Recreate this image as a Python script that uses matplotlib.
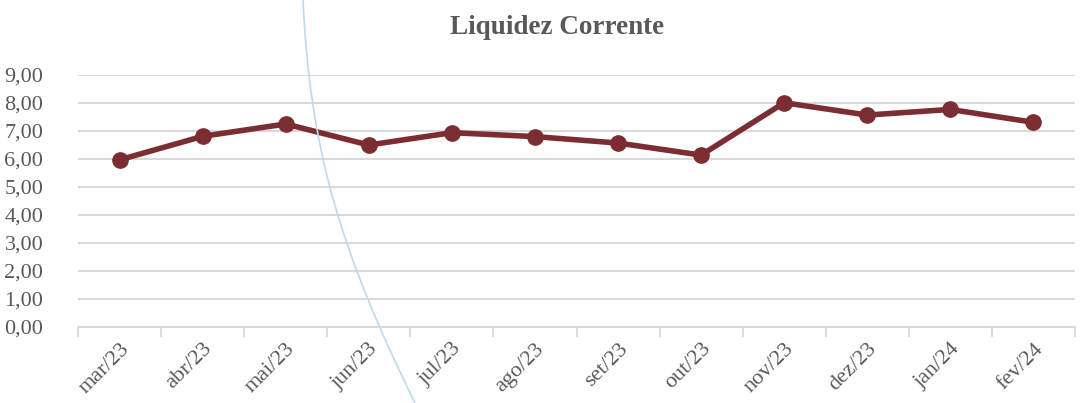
import matplotlib
matplotlib.use("Agg")
import matplotlib.pyplot as plt
from matplotlib.path import Path
from matplotlib.patches import PathPatch
import numpy as np

categories = ["mar/23", "abr/23", "mai/23", "jun/23", "jul/23", "ago/23",
              "set/23", "out/23", "nov/23", "dez/23", "jan/24", "fev/24"]
values = [5.97, 6.81, 7.25, 6.50, 6.94, 6.80, 6.57, 6.14, 8.01, 7.57, 7.77, 7.31]
yticks = [0, 1, 2, 3, 4, 5, 6, 7, 8, 9]
title = "Liquidez Corrente"

W, H = 1082, 403
fig = plt.figure(figsize=(W / 100, H / 100), dpi=100)
ax = fig.add_axes([78 / W, 1 - 327 / H, (1075 - 78) / W, (327 - 75) / H])

font = ["Liberation Serif", "DejaVu Serif"]
txt = "#595959"
line_c = "#7B2D31"

x = np.arange(len(categories))
ax.plot(x, values, color=line_c, lw=4, marker="o", ms=11, zorder=3,
        solid_capstyle="round")

ax.set_xlim(-0.5, len(categories) - 0.5)
ax.set_ylim(0, 9)
ax.set_yticks(yticks)
ax.set_yticklabels([f"{v:.2f}".replace(".", ",") for v in yticks],
                   family=font, fontsize=16, color=txt)
ax.tick_params(axis="y", length=0, pad=25)

ax.set_xticks(x)
ax.set_xticklabels(categories, family=font, fontsize=16, color=txt,
                   rotation=45, ha="right", rotation_mode="anchor")
ax.tick_params(axis="x", length=0, pad=9)
ax.set_xticks(np.arange(-0.5, len(categories), 1), minor=True)
ax.tick_params(axis="x", which="minor", length=7, color="#d9d9d9", width=1.3)

ax.grid(axis="y", color="#d9d9d9", lw=1.5)
ax.set_axisbelow(True)
for s in ["top", "right", "left"]:
    ax.spines[s].set_visible(False)
ax.spines["bottom"].set_color("#d9d9d9")
ax.spines["bottom"].set_linewidth(1.5)

fig.text(557 / W, 1 - 28 / H, title, family=font, fontsize=19.5,
         fontweight="bold", color=txt, ha="center", va="center")

# decorative background arc
pts = [(303, 0), (310, 150), (340, 250), (415, 403)]
verts = [(px / W, 1 - py / H) for px, py in pts]
path = Path(verts, [Path.MOVETO, Path.CURVE4, Path.CURVE4, Path.CURVE4])
fig.patches.append(PathPatch(path, transform=fig.transFigure, fill=False,
                             edgecolor="#bcdbe9", lw=1.2, zorder=0))

fig.savefig("out.png", dpi=100, facecolor="white")
